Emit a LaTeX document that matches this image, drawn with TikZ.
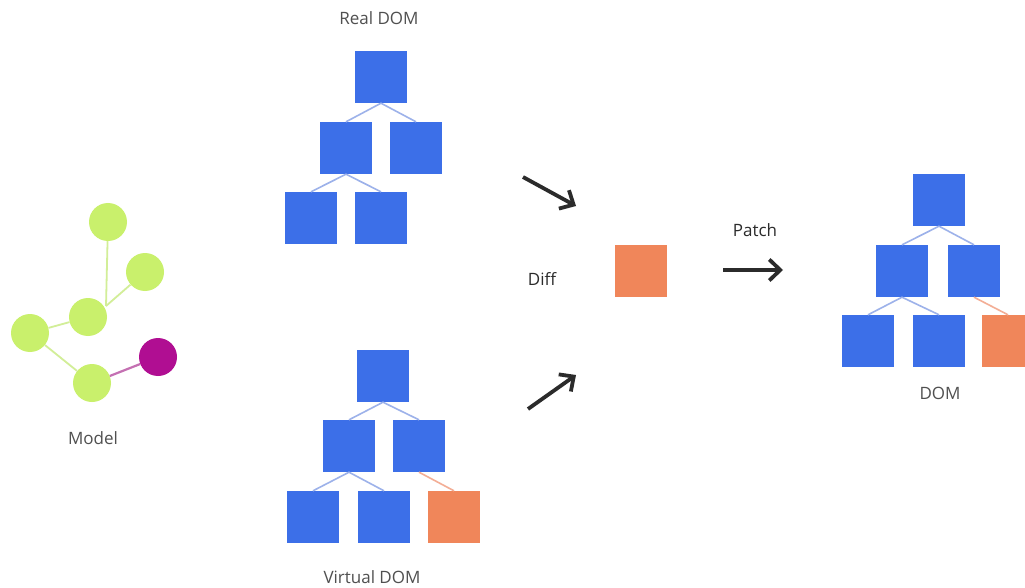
\documentclass[tikz,border=0pt]{standalone}
\usepackage{fontspec}
\setmainfont{Open Sans}
\usetikzlibrary{arrows.meta}
\definecolor{domblue}{HTML}{3C6FE8}
\definecolor{domorange}{HTML}{F0865A}
\definecolor{linkblue}{HTML}{9DB2EA}
\definecolor{linkorange}{HTML}{F3AE96}
\definecolor{modelgreen}{HTML}{C9F06C}
\definecolor{modelgreenline}{HTML}{D2EE98}
\definecolor{modelmag}{HTML}{B00E92}
\definecolor{modelmagline}{HTML}{C470B2}
\definecolor{labelgray}{HTML}{505050}
\definecolor{arrowdark}{HTML}{2B2B2B}
\tikzset{
  bsq/.style={rectangle, fill=domblue, minimum width=52pt, minimum height=52pt, inner sep=0pt},
  osq/.style={rectangle, fill=domorange, minimum width=52pt, minimum height=52pt, inner sep=0pt},
  blink/.style={draw=linkblue, line width=1.6pt},
  olink/.style={draw=linkorange, line width=1.6pt},
  gnode/.style={circle, fill=modelgreen, minimum size=38pt, inner sep=0pt},
  mnode/.style={circle, fill=modelmag, minimum size=38pt, inner sep=0pt},
  glink/.style={draw=modelgreenline, line width=1.8pt},
  mlink/.style={draw=modelmagline, line width=2.2pt},
  lbl/.style={text=labelgray, font=\fontsize{17}{20}\selectfont, inner sep=0pt},
  dlbl/.style={text=arrowdark, font=\fontsize{17}{20}\selectfont, inner sep=0pt},
  bigarrow/.style={draw=arrowdark, line width=3.8pt, -{Straight Barb[length=11pt,width=21pt,line width=3.8pt]}}
}
\begin{document}
\begin{tikzpicture}[x=1pt,y=-1pt]
\useasboundingbox (0,0) rectangle (1025,588);
\clip (0,0) rectangle (1025,588);
\fill[white] (0,0) rectangle (1025,588);

% ---------- Model ----------
\node[gnode] (m1) at (108,222) {};
\node[gnode] (m2) at (145,272) {};
\node[gnode] (m3) at (88,317) {};
\node[gnode] (m4) at (30,333) {};
\node[gnode] (m5) at (92,383) {};
\node[mnode] (m6) at (158,357) {};
\coordinate (mj) at (106,306);
\draw[glink] (m1) -- (mj);
\draw[glink] (m2) -- (mj);
\draw[glink] (m4) -- (m3);
\draw[glink] (m4) -- (m5);
\draw[mlink] (m5) -- (m6);
\node[lbl] (modellbl) at (93,438) {Model};

% ---------- Real DOM ----------
\node[lbl] (reallbl) at (379,18) {Real DOM};
\node[bsq] (r1) at (381,77) {};
\node[bsq] (r2) at (346,148) {};
\node[bsq] (r3) at (416,148) {};
\node[bsq] (r4) at (311,218) {};
\node[bsq] (r5) at (381,218) {};
\draw[blink] (r1.south) -- (r2.north);
\draw[blink] (r1.south) -- (r3.north);
\draw[blink] (r2.south) -- (r4.north);
\draw[blink] (r2.south) -- (r5.north);

% ---------- Virtual DOM ----------
\node[bsq] (v1) at (383,376) {};
\node[bsq] (v2) at (349,446) {};
\node[bsq] (v3) at (419,446) {};
\node[bsq] (v4) at (313,517) {};
\node[bsq] (v5) at (384,517) {};
\node[osq] (v6) at (454,517) {};
\draw[blink] (v1.south) -- (v2.north);
\draw[blink] (v1.south) -- (v3.north);
\draw[blink] (v2.south) -- (v4.north);
\draw[blink] (v2.south) -- (v5.north);
\draw[olink] (v3.south) -- (v6.north);
\node[lbl] (virtlbl) at (372,577) {Virtual DOM};

% ---------- Diff ----------
\coordinate (a1s) at (523,177);
\coordinate (a1e) at (576,206);
\coordinate (a2s) at (528,409);
\coordinate (a2e) at (576,375);
\draw[bigarrow] (a1s) -- (a1e);
\draw[bigarrow] (a2s) -- (a2e);
\node[dlbl] (difflbl) at (542,279) {Diff};
\node[osq] (diff) at (641,271) {};

% ---------- Patch ----------
\node[dlbl] (patchlbl) at (755,230) {Patch};
\coordinate (p1s) at (723,270);
\coordinate (p1e) at (783,270);
\draw[bigarrow] (p1s) -- (p1e);

% ---------- DOM ----------
\node[bsq] (d1) at (939,200) {};
\node[bsq] (d2) at (902,271) {};
\node[bsq] (d3) at (974,271) {};
\node[bsq] (d4) at (868,341) {};
\node[bsq] (d5) at (939,341) {};
\node[osq] (d6) at (1008,341) {};
\draw[blink] (d1.south) -- (d2.north);
\draw[blink] (d1.south) -- (d3.north);
\draw[blink] (d2.south) -- (d4.north);
\draw[blink] (d2.south) -- (d5.north);
\draw[olink] (d3.south) -- (d6.north);
\node[lbl] (domlbl) at (940,393) {DOM};
\end{tikzpicture}
\end{document}
